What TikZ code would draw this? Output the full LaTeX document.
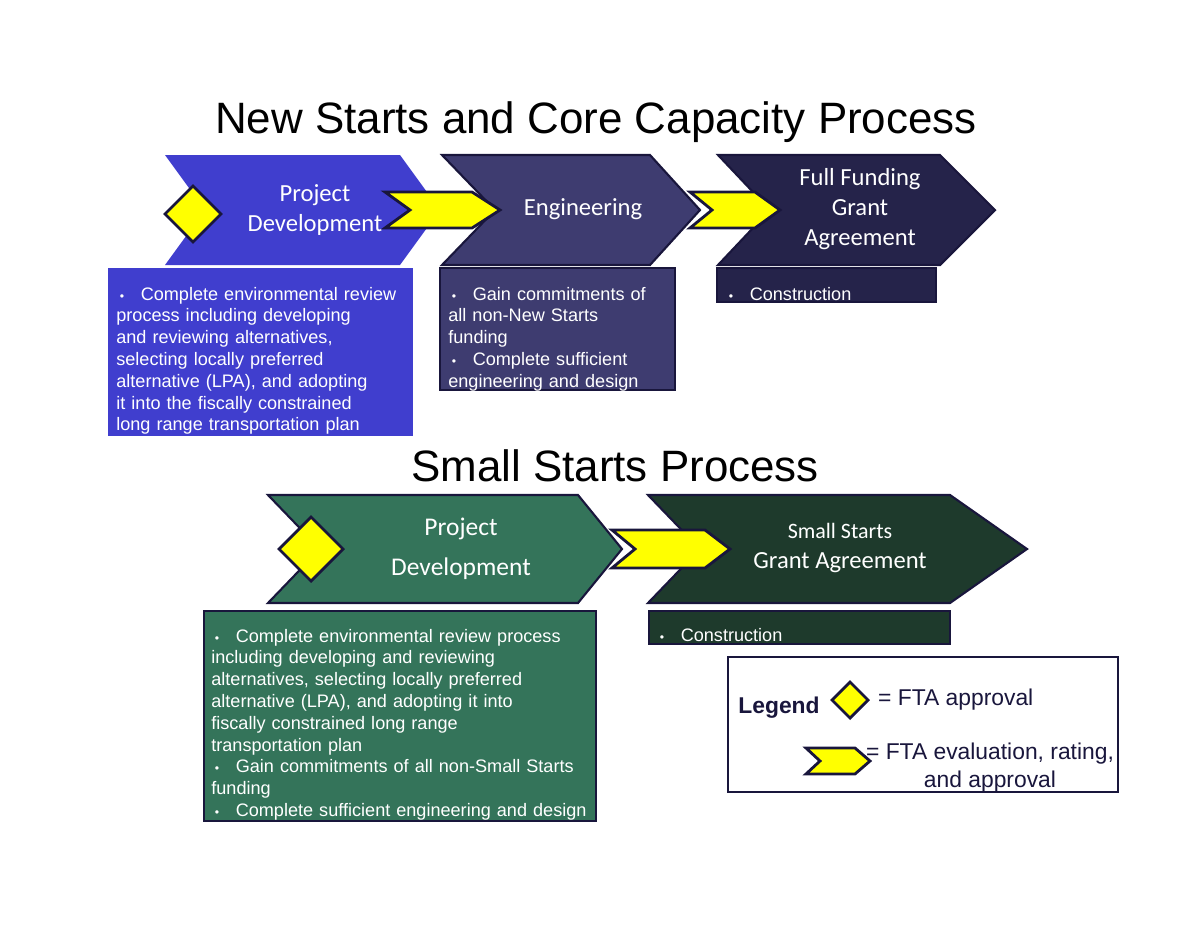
\documentclass[tikz,border=0pt]{standalone}
\usepackage{fontspec}
\setmainfont{Liberation Sans}
\newfontfamily\chevfont{Carlito}
\usetikzlibrary{positioning}
\definecolor{pdblue}{RGB}{64,62,206}
\definecolor{engblue}{RGB}{62,60,112}
\definecolor{ffgablue}{RGB}{37,35,74}
\definecolor{pdgreen}{RGB}{52,116,90}
\definecolor{ssgreen}{RGB}{30,58,44}
\definecolor{edge}{RGB}{25,22,60}
\definecolor{arrowyellow}{RGB}{255,255,0}
\newcommand{\bitem}[1]{\par\hangindent=1.35em\hangafter=1\noindent\makebox[1.35em][l]{\hspace{0.2em}\scriptsize\textbullet}#1}

\begin{document}
\begin{tikzpicture}[
	x=0.02cm, y=-0.02cm,
	chev/.style={draw=edge, line width=1.2pt, line join=miter},
	tag/.style={fill=arrowyellow, draw=edge, line width=1.6pt, line join=miter},
	title/.style={font=\fontsize{25}{30}\selectfont, text=black},
	chevtext/.style={text=white, align=center, font=\chevfont\fontsize{14}{17}\selectfont},
	infobox/.style={draw=edge, line width=0.8pt},
	infotext/.style={anchor=north west, text=white, text width=#1, font=\fontsize{10.3}{12.4}\selectfont\raggedright, inner sep=0pt}
	]
	\useasboundingbox (0,0) rectangle (1200,927);

	% Titles
	\node[title] (nstitle) at (596,122) {New Starts and Core Capacity Process};
	\node[title] (sstitle) at (615,466) {Small Starts Process};

	% New Starts chevrons
	\fill[pdblue] (165,155) -- (400,155) -- (440,210) -- (400,265) -- (165,265) -- (205,210) -- cycle;
	\draw[chev, fill=engblue] (442,155) -- (650,155) -- (700,210) -- (650,265) -- (442,265) -- (495,210) -- cycle;
	\draw[chev, fill=ffgablue] (718,155) -- (940,155) -- (995,210) -- (940,265) -- (718,265) -- (770,210) -- cycle;
	\node[chevtext] (pd) at (315,210) {Project\\Development};
	\node[chevtext] (eng) at (583,209) {Engineering};
	\node[chevtext] (ffga) at (860,209) {Full Funding\\Grant\\Agreement};

	% FTA markers
	\draw[tag] (193,186) -- (221,214) -- (193,242) -- (165,214) -- cycle;
	\draw[tag] (385,192) -- (472,192) -- (500,210) -- (472,228) -- (385,228) -- (410,210) -- cycle;
	\draw[tag] (690,192) -- (755,192) -- (780,210) -- (755,228) -- (690,228) -- (712,210) -- cycle;

	% New Starts boxes
	\fill[pdblue] (108,268) rectangle (413,436);
	\draw[infobox, fill=engblue] (440,268) rectangle (675,390);
	\draw[infobox, fill=ffgablue] (717,268) rectangle (936,302);
	\node[infotext=5.8cm] (pdtext) at (116,278) {\bitem{Complete environmental review\\process including developing\\and reviewing alternatives,\\selecting locally preferred\\alternative (LPA), and adopting\\it into the fiscally constrained\\long range transportation plan}};
	\node[infotext=4.5cm] (engtext) at (448,278) {\bitem{Gain commitments of\\all non-New Starts\\funding}\bitem{Complete sufficient\\engineering and design}};
	\node[infotext=4.2cm] (ffgatext) at (725,278) {\bitem{Construction}};

	% Small Starts chevrons
	\draw[chev, fill=pdgreen] (268,495) -- (578,495) -- (622,549) -- (578,603) -- (268,603) -- (320,549) -- cycle;
	\draw[chev, fill=ssgreen] (648,495) -- (950,495) -- (1027,549) -- (950,603) -- (648,603) -- (700,549) -- cycle;
	\node[chevtext, font=\chevfont\fontsize{14.5}{23}\selectfont] (sspd) at (461,549) {Project\\Development};
	\node[chevtext] (ssga) at (840,548) {{\fontsize{12.5}{15}\selectfont Small Starts}\\Grant Agreement};
	\draw[tag] (311,517) -- (343,549) -- (311,581) -- (279,549) -- cycle;
	\draw[tag] (612,530) -- (705,530) -- (730,549) -- (705,568) -- (612,568) -- (635,549) -- cycle;

	% Small Starts boxes
	\draw[infobox, fill=pdgreen] (204,611) rectangle (596,821);
	\draw[infobox, fill=ssgreen] (649,611) rectangle (950,644);
	\node[infotext=7.7cm] (sspdtext) at (211,620) {\bitem{Complete environmental review process\\including developing and reviewing\\alternatives, selecting locally preferred\\alternative (LPA), and adopting it into\\fiscally constrained long range\\transportation plan}\bitem{Gain commitments of all non-Small Starts\\funding}\bitem{Complete sufficient engineering and design}};
	\node[infotext=5.8cm] (ssgatext) at (656,619) {\bitem{Construction}};

	% Legend
	\draw[draw=edge, line width=1.5pt, fill=white] (728,657) rectangle (1118,792);
	\node[text=edge, font=\bfseries\fontsize{13}{15}\selectfont] (legend) at (779,708) {Legend};
	\draw[tag] (850,682) -- (868,700) -- (850,718) -- (832,700) -- cycle;
	\node[text=edge, font=\fontsize{13}{15}\selectfont, anchor=west] (approval) at (872,700) {= FTA approval};
	\draw[tag] (806,748) -- (855,748) -- (870,761) -- (855,774) -- (806,774) -- (820,761) -- cycle;
	\node[text=edge, font=\fontsize{13}{15.5}\selectfont, align=center, anchor=north] (rating) at (990,737) {= FTA evaluation, rating,\\and approval};
\end{tikzpicture}
\end{document}
